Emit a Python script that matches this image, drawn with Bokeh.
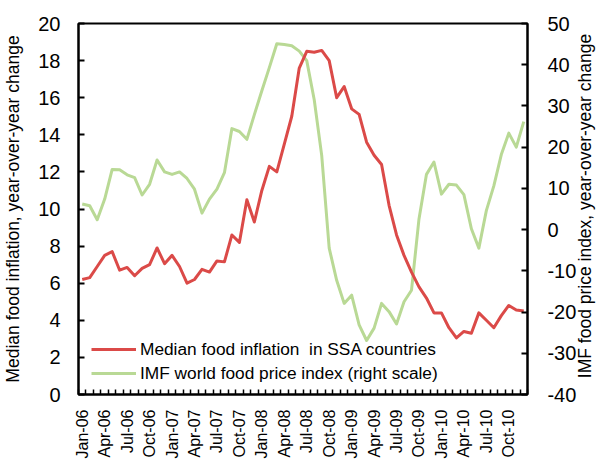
import math
import numpy as np
from bokeh.plotting import figure
from bokeh.models import Range1d, LinearAxis, FixedTicker
from bokeh.core.properties import value
from bokeh.embed import file_html
from bokeh.resources import INLINE

# ---- data (monthly, Jan-06 .. Dec-10) ----
quarter_labels = [
    "Jan-06", "Apr-06", "Jul-06", "Oct-06",
    "Jan-07", "Apr-07", "Jul-07", "Oct-07",
    "Jan-08", "Apr-08", "Jul-08", "Oct-08",
    "Jan-09", "Apr-09", "Jul-09", "Oct-09",
    "Jan-10", "Apr-10", "Jul-10", "Oct-10",
]

median_food_inflation = [
    6.2, 6.3, 6.9, 7.5, 7.7, 6.7, 6.85, 6.4, 6.8, 7.0, 7.9, 7.05,
    7.5, 6.9, 6.0, 6.2, 6.75, 6.6, 7.2, 7.15, 8.6, 8.2, 10.5, 9.3,
    11.0, 12.3, 12.0, 13.5, 15.0, 17.6, 18.5, 18.45, 18.55, 18.0, 16.0, 16.6,
    15.4, 15.1, 13.6, 12.9, 12.4, 10.2, 8.6, 7.5, 6.6, 5.8, 5.2, 4.4,
    4.4, 3.6, 3.05, 3.4, 3.3, 4.4, 4.0, 3.6, 4.25, 4.8, 4.55, 4.5,
]

imf_food_price_index = [
    6.2, 5.8, 2.4, 7.4, 14.6, 14.5, 13.3, 12.6, 8.4, 11.0, 16.9, 14.0,
    13.4, 14.0, 12.4, 9.8, 4.0, 7.4, 9.8, 13.8, 24.5, 23.8, 21.9, 27.9,
    33.7, 39.3, 45.1, 44.9, 44.6, 43.3, 41.0, 31.5, 18.0, -4.5, -12.3, -17.9,
    -15.9, -23.1, -26.9, -23.9, -17.9, -19.9, -22.9, -17.5, -14.7, 2.6, 13.4, 16.4,
    8.6, 11.0, 10.8, 8.5, 0.2, -4.5, 4.6, 10.6, 18.2, 23.4, 20.0, 26.2,
]

left_ticks = list(range(0, 21, 2))
right_ticks = [-40, -30, -20, -10, 0, 10, 20, 30, 40, 50]
right_tick_labels = ["-40", "-30", "-20", "-10", "0", "10", "20", "30", "40", "50"]

left_label = "Median food inflation, year-over-year change"
right_label = "IMF food price index, year-over-year change"
legend_red = "Median food inflation  in SSA countries"
legend_green = "IMF world food price index (right scale)"

RED = "#DB4A48"
GREEN = "#B9D995"
NARROW = "'Liberation Sans Narrow', 'Arial Narrow', sans-serif"
REGULAR = "'Liberation Sans', Arial, sans-serif"

# layout constants (pixels)
TOP, BOTTOM, LEFT, RIGHT = 23, 64, 77, 69
FRAME_W, FRAME_H = 450, 374

n = len(median_food_inflation)
x = np.arange(n)
R_LO, R_HI = -40, 50

p = figure(
    width=LEFT + FRAME_W + RIGHT, height=TOP + FRAME_H + BOTTOM,
    x_range=Range1d(-0.5, n - 0.5),
    y_range=Range1d(0, 20),
    output_backend="svg", toolbar_location=None,
    min_border_left=LEFT, min_border_right=RIGHT,
    min_border_top=TOP, min_border_bottom=BOTTOM,
)
p.extra_y_ranges = {"right": Range1d(R_LO, R_HI)}

p.xgrid.visible = False
p.ygrid.visible = False
p.outline_line_color = "black"
p.outline_line_width = 2
p.background_fill_color = "white"
p.border_fill_color = "white"

# lines
g = p.line(x, imf_food_price_index, y_range_name="right", line_color=GREEN,
           line_width=3, line_join="round", legend_label=legend_green)
r = p.line(x, median_food_inflation, line_color=RED, line_width=3,
           line_join="round", legend_label=legend_red)

# x axis
xa = p.xaxis[0]
major = list(range(0, n, 3))
xa.ticker = FixedTicker(ticks=major, minor_ticks=[i - 0.5 for i in range(n + 1)])
xa.major_label_overrides = {m: quarter_labels[k] for k, m in enumerate(major)}
xa.major_label_orientation = math.pi / 2
xa.major_tick_in = 0
xa.major_tick_out = 0
xa.minor_tick_in = 5
xa.minor_tick_out = 0
xa.minor_tick_line_color = "black"
xa.minor_tick_line_width = 1.5
xa.axis_line_width = 2
xa.major_label_standoff = 15
xa.major_label_text_font = REGULAR
xa.major_label_text_font_size = "16px"
xa.major_label_text_color = "black"

# left axis
ya = p.yaxis[0]
ya.ticker = FixedTicker(ticks=left_ticks)
ya.major_tick_in = 6
ya.major_tick_out = 0
ya.minor_tick_in = 0
ya.minor_tick_out = 0
ya.axis_line_width = 2
ya.major_tick_line_width = 2
ya.major_label_standoff = 18
ya.major_label_text_font = NARROW
ya.major_label_text_font_size = "20px"
ya.major_label_text_color = "black"
ya.axis_label = left_label
ya.axis_label_text_font = REGULAR
ya.axis_label_text_font_size = "17.5px"
ya.axis_label_text_font_style = "normal"
ya.axis_label_text_color = "black"
ya.axis_label_standoff = 12

# right axis (line and inward ticks; its numbers/title are drawn as text below)
ra = LinearAxis(y_range_name="right")
ra.ticker = FixedTicker(ticks=right_ticks)
ra.major_tick_in = 6
ra.major_tick_out = 0
ra.minor_tick_in = 0
ra.minor_tick_out = 0
ra.axis_line_width = 2
ra.major_tick_line_width = 2
ra.major_label_standoff = 0
ra.major_label_text_font_size = "1px"
ra.major_label_text_alpha = 0
p.add_layout(ra, "right")

# right-scale numbers (left-aligned) and title reading bottom-to-top,
# positioned through the right y scale; drawn at overlay level (not clipped)
px_per_x = FRAME_W / n
per_px_r = (R_HI - R_LO) / FRAME_H
num_x = (n - 0.5) + 20 / px_per_x
title_x = (n - 0.5) + 58 / px_per_x
title_y = (R_LO + R_HI) / 2 + 3 * per_px_r

p.text(x=[num_x] * len(right_ticks), y=right_ticks, text=right_tick_labels,
       y_range_name="right", level="overlay",
       text_align="left", text_baseline="middle",
       text_font=value(NARROW), text_font_size="20px", text_color="black")
p.text(x=[title_x], y=[title_y], text=[right_label], angle=math.pi / 2,
       y_range_name="right", level="overlay",
       text_align="center", text_baseline="middle",
       text_font=value(REGULAR), text_font_size="17.5px", text_color="black")

# legend
lg = p.legend[0]
lg.items = [it for it in lg.items if it.renderers[0] is r] + \
           [it for it in lg.items if it.renderers[0] is g]
lg.location = (13, 9)
lg.padding = 0
lg.margin = 0
lg.spacing = 0
lg.glyph_width = 45
lg.glyph_height = 24
lg.label_height = 24
lg.label_standoff = 4
lg.label_text_font = NARROW
lg.label_text_font_size = "17.3px"
lg.label_text_color = "black"
lg.background_fill_alpha = 0
lg.border_line_alpha = 0

open("out.html", "w").write(file_html(p, INLINE))
